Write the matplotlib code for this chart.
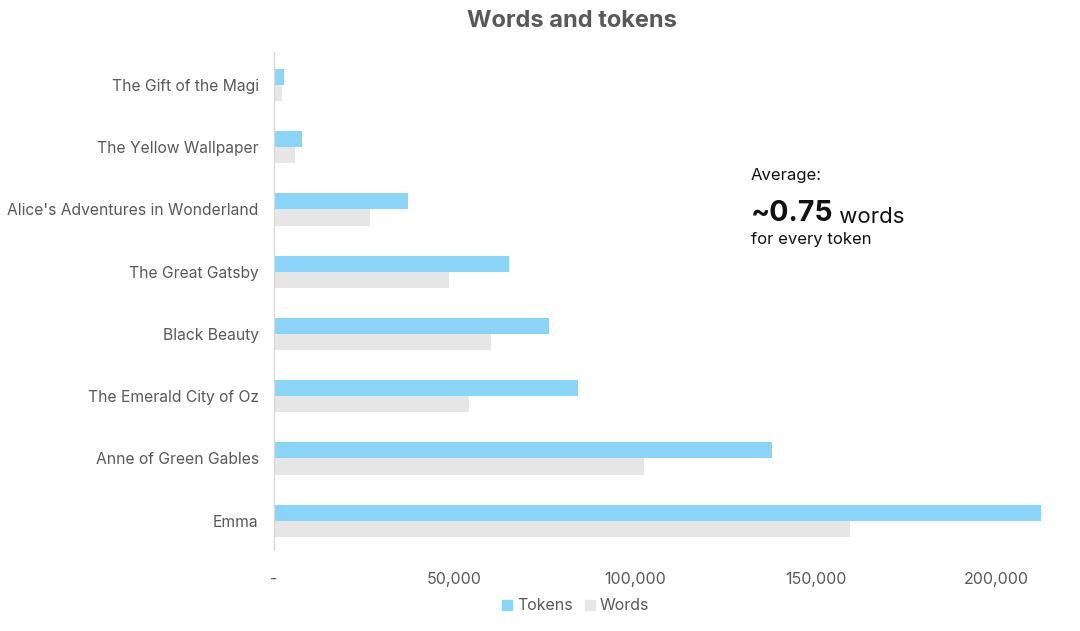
import matplotlib
matplotlib.use("Agg")
import matplotlib.pyplot as plt
from matplotlib.patches import Patch
from matplotlib.ticker import FuncFormatter

# books listed bottom to top, as drawn
books = ["Emma", "Anne of Green Gables", "The Emerald City of Oz", "Black Beauty",
         "The Great Gatsby", "Alice's Adventures in Wonderland",
         "The Yellow Wallpaper", "The Gift of the Magi"]
tokens = [212500, 138000, 84300, 76200, 65200, 37000, 7700, 2700]
words = [159600, 102500, 54000, 60000, 48400, 26500, 5900, 2100]
ticks = [0, 50000, 100000, 150000, 200000]

plt.rcParams['font.family'] = ['Inter', 'DejaVu Sans']

blue = "#8AD4F8"
grey = "#E6E6E6"
txt = "#595959"

fig = plt.figure(figsize=(10.8, 6.31), dpi=100)
ax = fig.add_axes([0.2537, 0.1284, 0.7204, 0.7892])

pos = list(range(len(books)))
h = 0.26
ax.barh([p + h / 2 for p in pos], tokens, height=h, color=blue, label="Tokens")
ax.barh([p - h / 2 for p in pos], words, height=h, color=grey, label="Words")

ax.set_xlim(0, 215500)
ax.set_ylim(-0.47, len(books) - 0.47)
ax.set_yticks(pos)
ax.set_yticklabels(books)
ax.set_xticks(ticks)
ax.xaxis.set_major_formatter(FuncFormatter(lambda v, p: "-" if v == 0 else f"{int(v):,}"))
ax.tick_params(axis="y", length=0, pad=11, labelsize=11.25, labelcolor=txt)
ax.tick_params(axis="x", length=0, pad=16, labelsize=11.5, labelcolor=txt)

for s in ["top", "right", "bottom"]:
    ax.spines[s].set_visible(False)
ax.spines["left"].set_color("#D9D9D9")
ax.spines["left"].set_linewidth(1.0)

fig.text(0.53, 0.967, "Words and tokens", ha="center", va="center",
         fontsize=17, fontweight="bold", color=txt)

handles = [Patch(color=blue, label="Tokens"), Patch(color=grey, label="Words")]
fig.legend(handles=handles, loc="center", bbox_to_anchor=(0.533, 0.04), ncol=2,
           frameon=False, fontsize=11.5, handlelength=0.6, handleheight=0.6,
           handletextpad=0.3, columnspacing=0.8, labelcolor=txt)

# callout
fig.text(0.695, 0.722, "Average:", ha="left", va="center", fontsize=12, color="#111111")
big = fig.text(0.695, 0.649, "~0.75", ha="left", va="baseline", fontsize=20.5,
               fontweight="bold", color="#111111")
ax.annotate(" words", xy=(1, 0), xycoords=big, va="bottom", ha="left",
            fontsize=16, color="#111111")
fig.text(0.695, 0.621, "for every token", ha="left", va="center", fontsize=12,
         color="#111111")

fig.savefig("out.png", dpi=100)
